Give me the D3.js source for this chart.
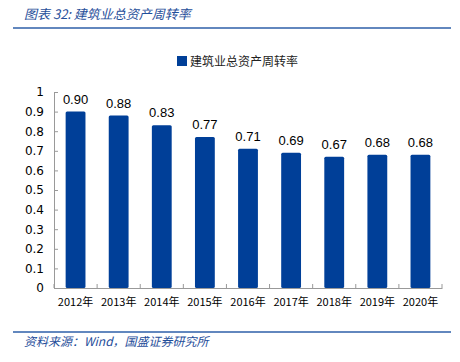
<!DOCTYPE html>
<meta charset="utf-8">
<style>
body { margin: 0; background: #fff; }
svg { display: block; }
.axis path, .axis line { stroke: #999; }
.cn { font-family: "Noto Sans CJK SC", sans-serif; }
</style>
<body>
<script src="https://cdn.jsdelivr.net/npm/d3@7"></script>
<script>
// chart data
var years = ["2012年", "2013年", "2014年", "2015年", "2016年", "2017年", "2018年", "2019年", "2020年"];
var turnover = [0.90, 0.88, 0.83, 0.77, 0.71, 0.69, 0.67, 0.68, 0.68];
var yTicks = [0, 0.1, 0.2, 0.3, 0.4, 0.5, 0.6, 0.7, 0.8, 0.9, 1];
var seriesName = "建筑业总资产周转率";

var W = 460, H = 362;
var margin = {top: 92, right: 18, bottom: 74, left: 54};

var svg = d3.select("body").append("svg")
    .attr("width", W).attr("height", H);

// title + rules
svg.append("text").attr("class", "cn")
    .attr("x", 24).attr("y", 19)
    .style("font-size", "13px").style("font-style", "italic")
    .attr("fill", "#1f4e9a")
    .text("图表 32:  建筑业总资产周转率");
svg.append("line").attr("x1", 13).attr("x2", 451).attr("y1", 28).attr("y2", 28)
    .attr("stroke", "#2e5fa8").attr("stroke-width", 1.5);
svg.append("line").attr("x1", 13).attr("x2", 451).attr("y1", 332).attr("y2", 332)
    .attr("stroke", "#2e5fa8").attr("stroke-width", 1.5);
svg.append("text").attr("class", "cn")
    .attr("x", 24).attr("y", 346)
    .style("font-size", "12px").style("font-style", "italic")
    .attr("fill", "#1f4e9a")
    .text("资料来源：Wind，国盛证券研究所");

var x = d3.scaleBand().domain(years)
    .range([margin.left, W - margin.right]).paddingInner(0.54).paddingOuter(0.27);
var y = d3.scaleLinear().domain([0, 1]).range([H - margin.bottom, margin.top]);

// legend
svg.append("rect").attr("x", 177).attr("y", 56).attr("width", 10).attr("height", 10)
    .attr("fill", "#003f98");
svg.append("text").attr("class", "cn")
    .attr("x", 190).attr("y", 66)
    .style("font-size", "12px").attr("fill", "#222")
    .text(seriesName);

// axes
var xa = svg.append("g").attr("class", "axis")
    .attr("transform", "translate(0," + y(0) + ")")
    .call(d3.axisBottom(x).tickSize(0).tickPadding(10));
xa.selectAll("text").attr("class", "cn").style("font-size", "11px").attr("fill", "#000");
// tick marks between categories
var step = x.step();
xa.selectAll(".sep").data(d3.range(years.length + 1)).enter().append("line")
    .attr("x1", function(i) { return margin.left + i * (W - margin.right - margin.left) / years.length; })
    .attr("x2", function(i) { return margin.left + i * (W - margin.right - margin.left) / years.length; })
    .attr("y1", 0).attr("y2", -4).attr("stroke", "#999");

var ya = svg.append("g").attr("class", "axis")
    .attr("transform", "translate(" + margin.left + ",0)")
    .call(d3.axisLeft(y).tickValues(yTicks).tickFormat(d3.format("")).tickSize(-4).tickPadding(10));
ya.selectAll("text").style("font-family", "DejaVu Sans").style("font-size", "12px").attr("fill", "#000");

// bars
svg.selectAll(".bar").data(turnover).enter().append("rect")
    .attr("x", function(d, i) { return x(years[i]); })
    .attr("y", function(d) { return y(d); })
    .attr("width", x.bandwidth())
    .attr("height", function(d) { return y(0) - y(d); })
    .attr("rx", 1.5)
    .attr("fill", "#003f98");

// value labels
svg.selectAll(".val").data(turnover).enter().append("text")
    .attr("x", function(d, i) { return x(years[i]) + x.bandwidth() / 2; })
    .attr("y", function(d) { return y(d) - 8; })
    .attr("text-anchor", "middle")
    .style("font-family", "Liberation Sans").style("font-size", "13px")
    .attr("fill", "#000")
    .text(function(d) { return d.toFixed(2); });
</script>
</body>
